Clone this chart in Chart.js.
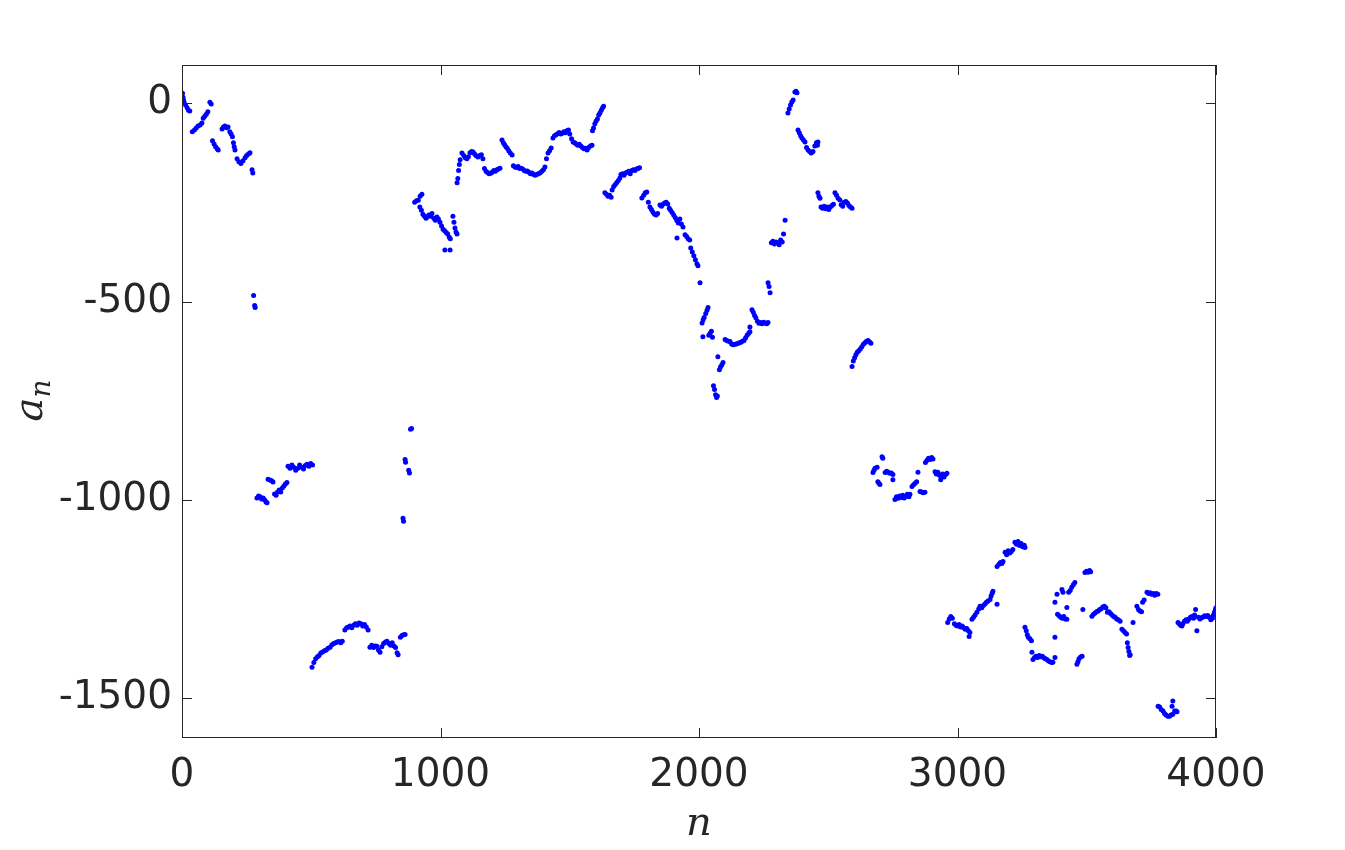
<!DOCTYPE html>
<html>
<head>
<meta charset="utf-8">
<script src="https://cdn.jsdelivr.net/npm/chart.js@4"></script>
<style>
  html, body { margin: 0; padding: 0; background: #fff; }
  #wrap { width: 1345px; height: 850px; }
</style>
</head>
<body>
<div id="wrap"><canvas id="seq-chart" width="1345" height="850"></canvas></div>
<script>
// axis settings
const xTicks = [0, 1000, 2000, 3000, 4000];
const yTicks = [-1500, -1000, -500, 0];
const xRange = [0, 4000];
const yRange = [-1600, 96];

// [n, a_n] pairs, grouped by stretch of n
const stretch0 = [[2,25],[4,15],[6,8],[8,2],[14,-5],[20,-12],[25,-18],[30,-20],
  [40,-72],[48,-68],[55,-63],[62,-58],[70,-55],[77,-50],[82,-38],[88,-33],[94,-28],[100,-22],
  [108,2],[113,-2],[118,-95],[124,-103],[130,-110],[136,-115],[140,-118],
  [155,-65],[160,-60],[166,-58],[172,-62],[178,-60],[185,-72],[190,-78],[195,-85],
  [199,-100],[202,-110],[205,-118],[213,-140],[220,-148],[228,-152],[236,-145],[244,-138],
  [250,-132],[257,-128],[263,-125],[271,-168],[274,-176],[277,-485],[281,-510],[283,-515]];

const stretch1 = [[290,-995],[296,-990],[302,-992],[308,-998],[314,-995],[320,-1000],[325,-1005],[329,-1007],
  [333,-948],[340,-950],[347,-952],[352,-955],
  [358,-985],[364,-988],[370,-980],[376,-975],[382,-980],[388,-970],[394,-965],[400,-960],[406,-956],
  [410,-915],[418,-920],[425,-912],[432,-918],[440,-925],[448,-920],[455,-912],[462,-918],
  [470,-922],[477,-913],[484,-910],[491,-915],[498,-908],[505,-912]];

const stretch2 = [[503,-1422],[510,-1410],[517,-1400],[524,-1395],[530,-1392],[537,-1386],[544,-1383],
  [551,-1380],[558,-1378],[565,-1374],[573,-1371],[580,-1365],[587,-1362],[594,-1360],[600,-1358],
  [607,-1357],[614,-1360],[620,-1356],
  [630,-1328],[637,-1322],[644,-1320],[650,-1318],[657,-1322],[664,-1316],[671,-1312],[678,-1316],
  [685,-1310],[692,-1312],[699,-1318],[706,-1314],[713,-1320],[720,-1328],
  [727,-1371],[734,-1366],[741,-1372],[748,-1368],[754,-1369],[760,-1378],[766,-1384],[773,-1370],
  [780,-1362],[787,-1358],[793,-1356],[800,-1362],[807,-1366],[813,-1360],[820,-1368],[826,-1372],
  [832,-1385],[836,-1390],[845,-1346],[851,-1342],[857,-1340],[863,-1339]];

const stretch3 = [[855,-1046],[857,-1054],[863,-898],[865,-905],[877,-925],[880,-932],[884,-822],[888,-820],
  [900,-250],[907,-246],[914,-245],[921,-235],[928,-230],
  [920,-262],[926,-270],[932,-280],[938,-285],[944,-290],[948,-287],
  [955,-282],[962,-285],[967,-278],[974,-290],[980,-295],[986,-287],[992,-292],[998,-300],
  [1004,-310],[1010,-318],[1016,-322],[1022,-326],[1028,-330],[1034,-338],[1038,-342],
  [1017,-370],[1037,-370],[1048,-285],[1052,-300],[1056,-315],[1060,-325],[1064,-330]];

const stretch4 = [[1064,-201],[1067,-190],[1070,-170],[1073,-155],[1076,-143],
  [1083,-126],[1090,-132],[1096,-138],[1102,-140],[1108,-135],[1114,-125],[1120,-122],[1126,-123],
  [1132,-128],[1138,-133],[1145,-136],[1152,-132],[1158,-130],[1164,-140],
  [1170,-165],[1176,-172],[1182,-175],[1188,-178],[1194,-177],[1200,-174],[1206,-170],[1212,-172],
  [1218,-168],[1224,-166],[1230,-164],
  [1238,-93],[1243,-100],[1248,-105],[1253,-110],[1258,-114],[1264,-120],[1270,-126],[1277,-131],
  [1282,-158],[1288,-161],[1294,-162],[1300,-160],[1306,-165],[1312,-164],[1318,-166],[1324,-170],
  [1330,-172],[1336,-171],[1342,-174],[1348,-178],[1354,-176],[1360,-180],[1366,-182],[1372,-180],
  [1378,-178],[1385,-176],[1392,-172],[1398,-168],[1404,-161],[1410,-140],[1416,-126],[1422,-120],[1428,-113],
  [1435,-88],[1441,-82],[1447,-80],[1453,-77],[1459,-74],[1465,-78],[1471,-76],[1477,-72],[1483,-75],
  [1489,-70],[1495,-68],[1500,-78],
  [1507,-90],[1513,-98],[1519,-100],[1525,-103],[1531,-106],[1537,-104],[1543,-108],[1549,-112],
  [1555,-115],[1561,-114],[1567,-118],[1573,-112],[1580,-108],[1586,-106],
  [1588,-70],[1592,-63],[1597,-52],[1602,-45],[1607,-40],[1612,-30],[1617,-25],[1622,-18],[1627,-12],[1631,-8]];

const stretch5 = [[1636,-226],[1642,-230],[1648,-235],[1654,-232],[1660,-237],
  [1664,-219],[1670,-210],[1676,-205],[1682,-200],[1688,-195],[1694,-189],
  [1698,-180],[1704,-178],[1710,-182],[1716,-176],[1722,-174],[1728,-172],[1734,-178],[1740,-170],
  [1746,-168],[1752,-170],[1758,-166],[1764,-165],[1770,-163],
  [1779,-239],[1786,-232],[1792,-226],[1798,-224],
  [1804,-250],[1810,-262],[1816,-268],[1822,-275],[1828,-280],[1834,-282],[1840,-278],
  [1849,-257],[1855,-260],[1861,-255],[1867,-252],[1873,-250],[1879,-254],
  [1885,-265],[1890,-270],[1896,-276],[1902,-282],[1908,-288],[1914,-296],[1920,-302],[1926,-292],
  [1932,-305],[1938,-312],[1915,-340],
  [1946,-332],[1952,-336],[1958,-342],[1964,-345],
  [1968,-365],[1974,-375],[1980,-385],[1986,-395],[1992,-405],[1996,-410],[2004,-453]];

const stretch6 = [[2012,-554],[2016,-546],[2015,-589],[2020,-540],[2026,-530],[2031,-522],[2035,-515],
  [2038,-585],[2043,-580],[2048,-575],[2052,-590],
  [2056,-712],[2060,-722],[2064,-735],[2068,-742],[2071,-738],
  [2073,-639],[2079,-672],[2083,-665],[2088,-660],[2093,-654],
  [2101,-596],[2107,-598],[2114,-600],[2120,-601],[2126,-607],[2132,-609],[2138,-608],[2144,-607],
  [2150,-606],[2156,-604],[2162,-603],[2168,-600],[2174,-598],[2180,-592],[2186,-585],[2192,-580],
  [2197,-576],[2197,-564],
  [2205,-521],[2210,-527],[2215,-535],[2220,-541],[2226,-550],[2232,-555],[2238,-553],[2244,-556],
  [2250,-552],[2256,-554],[2262,-556],[2267,-553],
  [2267,-453],[2271,-462],[2275,-478],
  [2280,-352],[2286,-348],[2292,-355],[2298,-350],[2304,-352],[2310,-357],[2316,-345],[2322,-350],
  [2327,-330],[2333,-295]];

const stretch7 = [[2344,-25],[2349,-15],[2354,-5],[2359,3],[2364,8],[2371,28],[2375,30],[2379,26],
  [2383,-68],[2388,-75],[2393,-82],[2398,-88],[2404,-93],[2410,-98],
  [2416,-112],[2422,-118],[2428,-122],[2434,-126],[2441,-122],
  [2448,-108],[2454,-100],[2458,-106],[2460,-98],
  [2460,-226],[2464,-235],[2468,-240],
  [2472,-262],[2478,-265],[2484,-260],[2490,-266],[2496,-262],[2502,-268],[2508,-262],[2514,-258],[2520,-255],
  [2526,-226],[2532,-232],[2538,-240],[2545,-244],
  [2550,-256],[2556,-260],[2562,-250],[2568,-248],[2574,-252],[2580,-258],[2586,-262],[2592,-265]];

const stretch8 = [[2592,-664],[2597,-650],[2602,-642],[2607,-634],[2612,-628],[2618,-624],[2624,-620],
  [2630,-614],[2636,-608],[2642,-604],[2648,-600],[2654,-598],[2660,-602],[2665,-605],
  [2673,-931],[2677,-925],[2681,-920],[2689,-918],[2692,-954],[2696,-958],[2700,-961],
  [2708,-891],[2711,-895],
  [2720,-931],[2726,-928],[2732,-930],[2738,-933],[2744,-932],[2750,-936],[2750,-949],
  [2758,-999],[2764,-992],[2770,-996],[2776,-990],[2782,-994],[2788,-988],[2794,-995],[2800,-990],
  [2806,-986],[2812,-992],[2816,-986],
  [2824,-966],[2830,-962],[2836,-958],[2842,-954],[2847,-930],
  [2855,-979],[2861,-980],[2867,-982],[2874,-981],
  [2876,-906],[2882,-900],[2888,-895],[2894,-898],[2900,-893],[2905,-897],
  [2913,-929],[2918,-935],[2924,-930],[2930,-938],[2936,-940],[2942,-935],[2948,-942],[2954,-936],
  [2959,-933],[2935,-949]];

const stretch9 = [[2962,-1309],[2968,-1300],[2974,-1294],[2980,-1298],
  [2988,-1312],[2994,-1316],[3000,-1318],[3006,-1314],[3012,-1320],[3018,-1318],[3024,-1322],[3030,-1326],
  [3036,-1324],[3042,-1330],[3048,-1334],[3045,-1344],
  [3056,-1301],[3062,-1296],[3068,-1290],[3075,-1283],
  [3082,-1275],[3087,-1268],[3094,-1272],[3100,-1266],[3106,-1262],[3112,-1258],[3118,-1255],
  [3126,-1251],[3130,-1242],[3134,-1235],[3137,-1230],[3153,-1263],
  [3153,-1168],[3160,-1162],[3166,-1158],[3172,-1160],[3176,-1155],
  [3184,-1132],[3190,-1138],[3196,-1128],[3202,-1134],[3208,-1130],[3214,-1125],
  [3222,-1107],[3228,-1112],[3234,-1105],[3240,-1115],[3246,-1110],[3252,-1118],[3258,-1114],[3261,-1120]];

const stretch10 = [[3261,-1321],[3266,-1330],[3270,-1340],[3274,-1346],[3280,-1350],[3286,-1355],[3288,-1384],
  [3292,-1402],[3298,-1397],[3304,-1394],[3310,-1397],[3316,-1392],[3322,-1395],[3328,-1394],[3334,-1398],
  [3340,-1400],[3346,-1402],[3352,-1406],[3358,-1408],[3364,-1410],[3369,-1409],[3377,-1397],
  [3377,-1346],[3377,-1258],[3385,-1238],[3387,-1288],[3393,-1292],[3399,-1296],[3405,-1298],[3411,-1294],
  [3417,-1300],[3423,-1301],[3423,-1271],[3404,-1226],[3408,-1233],
  [3430,-1233],[3436,-1228],[3442,-1220],[3448,-1214],[3454,-1208],
  [3462,-1414],[3466,-1408],[3470,-1400],[3476,-1396],[3482,-1394],[3485,-1276],
  [3493,-1183],[3499,-1180],[3505,-1182],[3511,-1178],[3515,-1181],
  [3520,-1293],[3526,-1288],[3532,-1285],[3538,-1282],[3544,-1280],[3550,-1276],[3556,-1274],[3562,-1270],
  [3568,-1268],[3574,-1272],
  [3580,-1283],[3586,-1282],[3592,-1286],[3598,-1290],[3604,-1294],[3610,-1296],[3616,-1300],[3622,-1302],
  [3629,-1306],[3636,-1326],[3642,-1330],[3648,-1334],[3654,-1338],
  [3657,-1360],[3660,-1372],[3663,-1382],[3666,-1392],[3668,-1390],[3679,-1309]];

const stretch11 = [[3694,-1268],[3700,-1276],[3706,-1280],[3712,-1282],[3716,-1258],[3722,-1252],
  [3733,-1233],[3739,-1236],[3745,-1234],[3751,-1238],[3757,-1236],[3763,-1240],[3769,-1236],[3775,-1238],
  [3776,-1520],[3782,-1522],[3788,-1528],[3795,-1532],[3801,-1538],[3807,-1542],[3814,-1545],[3820,-1545],
  [3826,-1542],[3833,-1540],[3830,-1520],[3833,-1507],[3840,-1532],[3846,-1532],[3849,-1534],
  [3853,-1309],[3858,-1312],[3863,-1316],[3868,-1318],[3872,-1312],[3878,-1306],[3884,-1302],[3889,-1306],
  [3895,-1300],[3901,-1296],[3907,-1294],[3913,-1298],[3917,-1290],[3921,-1276],[3926,-1330],
  [3932,-1296],[3938,-1300],[3944,-1297],[3950,-1295],[3956,-1292],[3962,-1294],[3968,-1291],[3974,-1296],
  [3980,-1302],[3986,-1298],[3990,-1290],[3994,-1283],[3998,-1276],[4000,-1272]];

const allStretches = [stretch0, stretch1, stretch2, stretch3, stretch4, stretch5,
  stretch6, stretch7, stretch8, stretch9, stretch10, stretch11];

const points = allStretches.flat().map(p => ({ x: p[0], y: p[1] }));

const AXIS_COLOR = '#262626';
const TICK_FONT = { family: 'DejaVu Sans', size: 39 };

// box round the plot plus inward tick marks on all four sides
const boxPlugin = {
    id: 'boxPlugin',
    afterDraw: function (chart) {
        const ctx = chart.ctx;
        const area = chart.chartArea;
        const xs = chart.scales.x;
        const ys = chart.scales.y;
        const len = 10;
        ctx.save();
        ctx.strokeStyle = AXIS_COLOR;
        ctx.lineWidth = 1;
        ctx.strokeRect(area.left + 0.5, area.top + 0.5, area.right - area.left - 1, area.bottom - area.top - 1);
        ctx.beginPath();
        xTicks.forEach(v => {
            const px = Math.round(xs.getPixelForValue(v)) + 0.5;
            ctx.moveTo(px, area.bottom); ctx.lineTo(px, area.bottom - len);
            ctx.moveTo(px, area.top); ctx.lineTo(px, area.top + len);
        });
        yTicks.forEach(v => {
            const py = Math.round(ys.getPixelForValue(v)) + 0.5;
            ctx.moveTo(area.left, py); ctx.lineTo(area.left + len, py);
            ctx.moveTo(area.right, py); ctx.lineTo(area.right - len, py);
        });
        ctx.stroke();

        // axis titles (math italic)
        ctx.fillStyle = AXIS_COLOR;
        ctx.textAlign = 'center';
        ctx.textBaseline = 'alphabetic';
        ctx.font = 'italic 40px "DejaVu Serif"';
        ctx.fillText('n', (area.left + area.right) / 2, 835);

        ctx.translate(42, (area.top + area.bottom) / 2);
        ctx.rotate(-Math.PI / 2);
        ctx.textAlign = 'left';
        ctx.font = 'italic 40px "DejaVu Serif"';
        const aw = ctx.measureText('a').width;
        ctx.fillText('a', -aw / 2 - 8, 0);
        ctx.font = 'italic 28px "DejaVu Serif"';
        ctx.fillText('n', aw / 2 - 8, 8);
        ctx.restore();
    }
};

document.addEventListener('DOMContentLoaded', function () {
    const ctx = document.getElementById('seq-chart').getContext('2d');
    new Chart(ctx, {
        type: 'scatter',
        data: {
            datasets: [{
                data: points,
                pointRadius: 2.5,
                pointHoverRadius: 2.5,
                pointBorderWidth: 0,
                backgroundColor: '#0000ff',
                borderColor: '#0000ff'
            }]
        },
        options: {
            responsive: false,
            devicePixelRatio: 1,
            animation: false,
            layout: { padding: { left: 0, top: 65, right: 129, bottom: 0 } },
            plugins: { legend: { display: false }, tooltip: { enabled: false } },
            scales: {
                x: {
                    type: 'linear',
                    min: xRange[0],
                    max: xRange[1],
                    afterBuildTicks: axis => { axis.ticks = xTicks.map(v => ({ value: v })); },
                    afterFit: axis => { axis.height = 112; },
                    grid: { display: false, drawTicks: false },
                    border: { display: false },
                    ticks: { color: AXIS_COLOR, font: TICK_FONT, padding: 14, maxRotation: 0,
                             callback: v => String(v) }
                },
                y: {
                    type: 'linear',
                    min: yRange[0],
                    max: yRange[1],
                    afterBuildTicks: axis => { axis.ticks = yTicks.map(v => ({ value: v })); },
                    afterFit: axis => { axis.width = 182; },
                    grid: { display: false, drawTicks: false },
                    border: { display: false },
                    ticks: { color: AXIS_COLOR, font: TICK_FONT, padding: 10,
                             callback: v => String(v) }
                }
            }
        },
        plugins: [boxPlugin]
    });
});
</script>
</body>
</html>
